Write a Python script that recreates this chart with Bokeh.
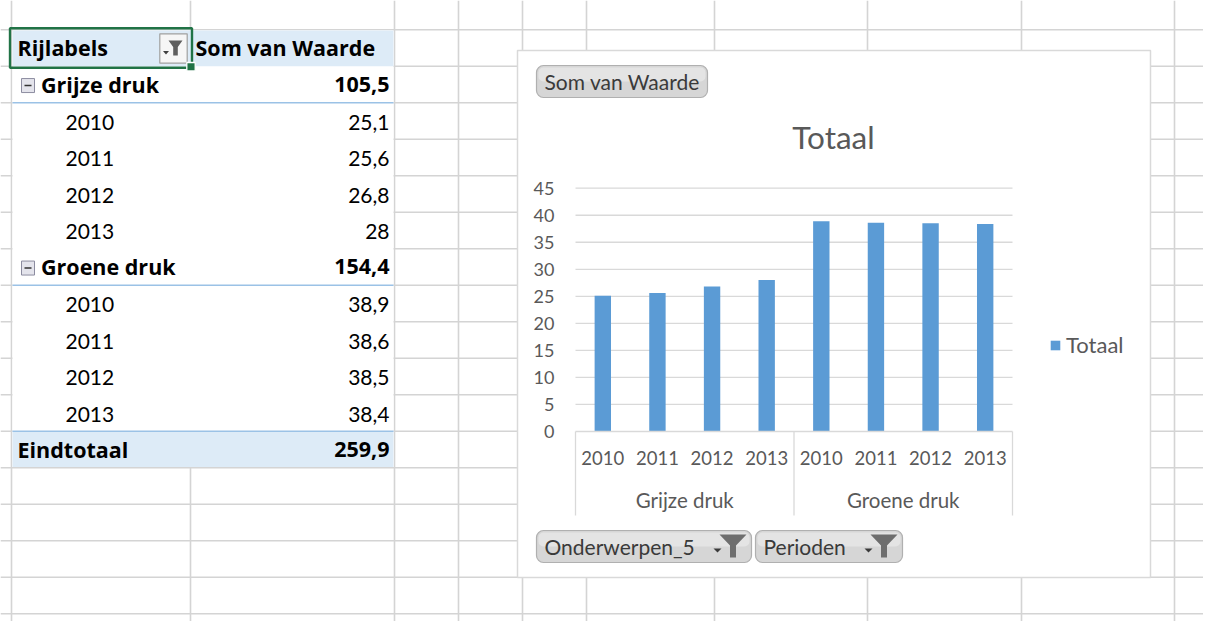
from bokeh.plotting import figure
from bokeh.models import Range1d, FixedTicker, Legend, LegendItem, LinearAxis, ColumnDataSource
from bokeh.embed import file_html
from bokeh.resources import INLINE
from bokeh.core.properties import value

# ---------------- data ----------------
groups = ["Grijze druk", "Groene druk"]
years = ["2010", "2011", "2012", "2013"]
grijze_druk = [25.1, 25.6, 26.8, 28.0]
groene_druk = [38.9, 38.6, 38.5, 38.4]
y_ticks = [0, 5, 10, 15, 20, 25, 30, 35, 40, 45]
series_name = "Totaal"
row_header = "Rijlabels"
value_header = "Som van Waarde"
grand_total_label = "Eindtotaal"
filter_fields = ["Onderwerpen_5", "Perioden"]

FONT = "Lato"
BFONT = "Open Sans"
GRID = "#d9d9d9"
SHEET = "#d4d4d4"
TXT = "#595959"
BAR = "#5b9bd5"
BLUE_BG = "#ddebf7"
BLUE_LINE = "#9bc2e6"
LATO_SHIFT = 0.36   # baseline correction (em) for text glyphs
OPEN_SHIFT = 0.42


def nl(v):
    s = f"{v:.1f}".replace(".", ",")
    return s[:-2] if s.endswith(",0") else s


# ---------------- one figure, default ranges = page pixels ----------------
W, H = 1203, 621
fig = figure(width=W, height=H, x_range=Range1d(0, W), y_range=Range1d(H, 0),
             x_axis_type=None, y_axis_type=None, min_border=0,
             output_backend="svg", toolbar_location=None)
fig.grid.visible = False
fig.outline_line_color = None
fig.background_fill_color = "white"
fig.border_fill_color = "white"

# spreadsheet grid
col_x = [11, 190, 394, 458, 522, 586, 714, 867, 1021, 1174]
ROW0, ROWH = 29.3, 36.5
row_y = [ROW0 + ROWH * k for k in range(17)]
fig.segment(x0=col_x, y0=[0] * len(col_x), x1=col_x, y1=[H] * len(col_x), line_color=SHEET, line_width=1.6)
fig.segment(x0=[0] * len(row_y), y0=row_y, x1=[W] * len(row_y), y1=row_y, line_color=SHEET, line_width=1.6)

# ---------------- pivot table ----------------
table_rows = []
for g, vals_g in zip(groups, [grijze_druk, groene_druk]):
    table_rows.append((g, nl(round(sum(vals_g), 1)), "group"))
    for yr, v in zip(years, vals_g):
        table_rows.append((yr, nl(v), "item"))
table_rows.append((grand_total_label, nl(round(sum(grijze_druk) + sum(groene_druk), 1)), "total"))
n_rows = len(table_rows) + 1
t_left, t_right = 12, 393
t_top, t_bottom = ROW0 + 0.8, ROW0 + ROWH * n_rows
fig.quad(left=[t_left], right=[t_right], top=[t_top], bottom=[t_bottom - 0.8], fill_color="white", line_color=None)
fig.quad(left=[t_left, t_left], right=[t_right, t_right],
         top=[t_top, ROW0 + ROWH * (n_rows - 1)], bottom=[ROW0 + ROWH, t_bottom - 0.8],
         fill_color=BLUE_BG, line_color=None)
blue_lines = [ROW0 + ROWH * (i + 1) for i, r in enumerate(table_rows, start=1) if r[2] == "group"]
blue_lines.append(ROW0 + ROWH * (n_rows - 1))
fig.segment(x0=[t_left] * len(blue_lines), y0=blue_lines, x1=[t_right] * len(blue_lines), y1=blue_lines,
            line_color=BLUE_LINE, line_width=1.5)

# texts
BFS, RFS = 21.5, 21
b_x, b_y, b_t = [17], [ROW0 + ROWH - 9.5], [row_header]
r_x, r_y, r_t = [], [], []
bv_x, bv_y, bv_t = [], [], []
rv_x, rv_y, rv_t = [], [], []
for i, (lab, val, kind) in enumerate(table_rows, start=1):
    base = ROW0 + ROWH * (i + 1) - 9.5
    if kind == "item":
        r_x.append(65); r_y.append(base); r_t.append(lab)
        rv_x.append(389); rv_y.append(base); rv_t.append(val)
    else:
        b_x.append(40.5 if kind == "group" else 17); b_y.append(base); b_t.append(lab)
        bv_x.append(389); bv_y.append(base); bv_t.append(val)
b_x.append(195); b_y.append(ROW0 + ROWH - 9.5); b_t.append(value_header)
bshift = OPEN_SHIFT * BFS
rshift = LATO_SHIFT * RFS
fig.text(x=b_x, y=[y - bshift for y in b_y], text=b_t, text_font=value(BFONT), text_font_style="bold",
         text_font_size=f"{BFS}px", text_color="black", text_baseline="alphabetic", text_align="left")
fig.text(x=bv_x, y=[y - bshift for y in bv_y], text=bv_t, text_font=value(BFONT), text_font_style="bold",
         text_font_size=f"{BFS}px", text_color="black", text_baseline="alphabetic", text_align="right")
fig.text(x=r_x, y=[y - rshift for y in r_y], text=r_t, text_font=value(FONT), text_font_size=f"{RFS}px",
         text_color="black", text_baseline="alphabetic", text_align="left")
fig.text(x=rv_x, y=[y - rshift for y in rv_y], text=rv_t, text_font=value(FONT), text_font_size=f"{RFS}px",
         text_color="black", text_baseline="alphabetic", text_align="right")

# collapse boxes
gy = [ROW0 + ROWH * i + ROWH / 2 + 1 for i, r in enumerate(table_rows, start=1) if r[2] == "group"]
fig.quad(left=[21] * len(gy), right=[34] * len(gy), top=[y - 7 for y in gy], bottom=[y + 7 for y in gy],
         fill_color="#e4e4ec", line_color="#8c8ca0", line_width=1)
fig.segment(x0=[24] * len(gy), y0=gy, x1=[31] * len(gy), y1=gy, line_color="#333333", line_width=1.6)

# header filter button
fig.quad(left=[159.3], right=[186.7], top=[33.3], bottom=[62.7], fill_color="#f6f6f6", line_color="#a0a0a0", line_width=1.2)
fig.patch(x=[168, 182, 177.3, 177.3, 172.7, 172.7], y=[40, 40, 46.5, 55, 55, 46.5], fill_color="#5f5f5f", line_color=None)
fig.patch(x=[162.5, 168.5, 165.5], y=[50.5, 50.5, 54], fill_color="#404040", line_color=None)

# selection border + handle
fig.quad(left=[9.5], right=[191.5], top=[27.8], bottom=[67.2], fill_color=None, line_color="#217346", line_width=2.4)
fig.quad(left=[186.3], right=[194.7], top=[62], bottom=[70.4], fill_color="#217346", line_color="white", line_width=1.3)

# ---------------- chart area ----------------
fig.quad(left=[517], right=[1150], top=[50], bottom=[577], fill_color="white", line_color=GRID, line_width=1.5)

# field buttons
btn_l = [536, 536, 755]
btn_r = [707, 751, 902]
btn_t = [65, 530, 530]
btn_b = [97, 562, 562]
btn_txt = [value_header] + filter_fields
BTN_FS = 21
fig.quad(left=btn_l, right=btn_r, top=btn_t, bottom=btn_b, fill_color="#d6d6d6", line_color="#b0b0b0",
         line_width=1.2, border_radius=7)
fig.quad(left=[l + 2 for l in btn_l], right=[r - 2 for r in btn_r], top=[t + 2 for t in btn_t],
         bottom=[(t + b) / 2 for t, b in zip(btn_t, btn_b)], fill_color="#e4e4e4", line_color=None, border_radius=5)
fig.text(x=[l + 8 for l in btn_l], y=[b - 8.5 - LATO_SHIFT * BTN_FS for b in btn_b], text=btn_txt,
         text_font=value(FONT), text_font_size=f"{BTN_FS}px", text_color="#3a3a3a", text_baseline="alphabetic")
fx, fy, ax_, ay_ = [], [], [], []
for r in btn_r[1:]:
    fx.append([r - 32, r - 5, r - 15.5, r - 15.5, r - 21.5, r - 21.5])
    fy.append([534, 534, 545, 557, 557, 545])
    ax_.append([r - 38, r - 30, r - 34])
    ay_.append([548, 548, 552])
fig.patches(xs=fx, ys=fy, fill_color="#6e6e6e", line_color=None)
fig.patches(xs=ax_, ys=ay_, fill_color="#3a3a3a", line_color=None)

# chart title
TFS = 31.5
fig.text(x=[833], y=[148 - LATO_SHIFT * TFS], text=[series_name], text_font=value(FONT), text_font_size=f"{TFS}px",
         text_color=TXT, text_align="center", text_baseline="alphabetic")

# chart scales: categories / values mapped into the plot area
factors = [(g, y) for g in groups for y in years]
vals = grijze_druk + groene_druk
n_cat = len(factors)
centers = [i + 0.5 for i in range(n_cat)]
year_labels = [y for g, y in factors]
g_centers = [len(years) * (k + 0.5) for k in range(len(groups))]
PX0, PX1 = 575, 1012
PY0, PYTOP = 431, 187.7
ux = (PX1 - PX0) / n_cat
uy = (PY0 - PYTOP) / y_ticks[-1]
fig.extra_x_ranges = {"cx": Range1d((0 - PX0) / ux, (W - PX0) / ux)}
fig.extra_y_ranges = {"cy": Range1d((PY0 - H) / uy, (PY0 - 0) / uy)}
sep_bottom = (PY0 - 515) / uy

fig.segment(x0=[0] * (len(y_ticks) - 1), x1=[n_cat] * (len(y_ticks) - 1), y0=y_ticks[1:], y1=y_ticks[1:],
            x_range_name="cx", y_range_name="cy", line_color=GRID, line_width=1.3)
bounds = [0, len(years), n_cat]
fig.segment(x0=bounds, x1=bounds, y0=[0] * 3, y1=[sep_bottom] * 3,
            x_range_name="cx", y_range_name="cy", line_color=GRID, line_width=1.3)

src = ColumnDataSource(dict(x=centers, top=vals))
bars = fig.vbar(x="x", top="top", width=0.3, source=src, x_range_name="cx", y_range_name="cy",
                fill_color=BAR, line_color=None)

yax = LinearAxis(x_range_name="cx", y_range_name="cy", fixed_location=0, ticker=FixedTicker(ticks=y_ticks),
                 axis_line_color=None, major_tick_line_color=None, minor_tick_line_color=None,
                 major_tick_out=0, major_tick_in=0,
                 major_label_standoff=21, major_label_text_font=FONT, major_label_text_font_size="18px",
                 major_label_text_color=TXT)
fig.add_layout(yax, "left")
xax = LinearAxis(x_range_name="cx", y_range_name="cy", fixed_location=0, bounds=(0, n_cat),
                 ticker=FixedTicker(ticks=centers), major_label_overrides=dict(zip(centers, year_labels)),
                 axis_line_color=GRID, axis_line_width=1.3, major_tick_line_color=None, minor_tick_line_color=None,
                 major_label_standoff=13, major_label_text_font=FONT, major_label_text_font_size="18.5px",
                 major_label_text_color=TXT)
fig.add_layout(xax, "below")
gax = LinearAxis(x_range_name="cx", y_range_name="cy", fixed_location=0,
                 ticker=FixedTicker(ticks=g_centers), major_label_overrides=dict(zip(g_centers, groups)),
                 axis_line_color=None, major_tick_line_color=None, minor_tick_line_color=None,
                 major_label_standoff=50, major_label_text_font=FONT, major_label_text_font_size="20.5px",
                 major_label_text_color=TXT)
fig.add_layout(gax, "below")

legend = Legend(items=[LegendItem(label=series_name, renderers=[bars])], location=(1049, H - 358),
                border_line_color=None, background_fill_alpha=0, margin=0, padding=0,
                glyph_width=12, glyph_height=12, label_standoff=5,
                label_text_font=FONT, label_text_font_size="22px", label_text_color=TXT)
fig.add_layout(legend)

open("out.html", "w").write(file_html(fig, INLINE))
